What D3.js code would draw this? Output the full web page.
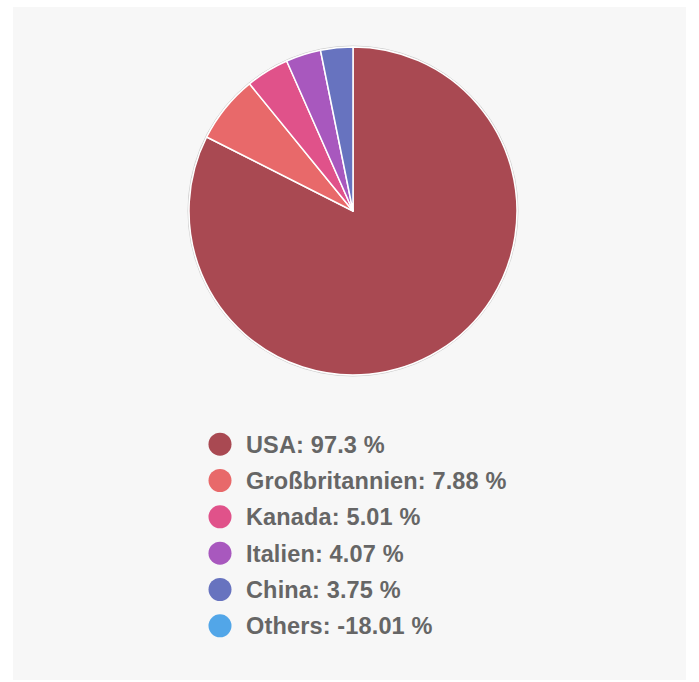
<!DOCTYPE html>
<html>
<head>
<meta charset="utf-8">
<script src="https://cdn.jsdelivr.net/npm/d3@7"></script>
<style>
  body { margin: 0; background: #fff; }
  .chart { font-family: "Liberation Sans", Arial, sans-serif; }
</style>
</head>
<body>
<div class="chart"></div>
<script>
// data
var countries = ["USA", "Großbritannien", "Kanada", "Italien", "China", "Others"];
var shares = [97.3, 7.88, 5.01, 4.07, 3.75, -18.01];
var colors = ["#a94952", "#e8696a", "#e0528a", "#a858be", "#6773bf", "#52a6e8"];

var W = 699, H = 682;
var cx = 353, cy = 211, r = 164;

var data = countries.map(function(c, i) { return {name: c, value: shares[i], color: colors[i]} });

var svg = d3.select('.chart').append('svg')
  .attr('width', W)
  .attr('height', H);

// panel background
svg.append('rect')
  .attr('x', 13).attr('y', 7)
  .attr('width', 673).attr('height', 673)
  .attr('fill', '#f7f7f7');

var pie = d3.pie()
  .sort(null)
  .value(function(d) { return Math.max(0, d.value) });

var arc = d3.arc().innerRadius(0).outerRadius(r);

var g = svg.append('g')
  .attr('transform', 'translate(' + cx + ',' + cy + ')');

// thin grey outer ring
g.append('circle')
  .attr('r', r + 1)
  .attr('fill', 'none')
  .attr('stroke', '#d0d0d0')
  .attr('stroke-width', 1);

g.selectAll('path')
  .data(pie(data).filter(function(d) { return d.endAngle > d.startAngle }))
  .enter().append('path')
  .attr('d', arc)
  .attr('fill', function(d) { return d.data.color })
  .attr('stroke', '#fff')
  .attr('stroke-width', 1.5)
  .attr('stroke-linejoin', 'round');

// legend
var y = d3.scaleBand()
  .domain(countries)
  .range([426, 644]);

var leg = svg.selectAll('.leg')
  .data(data)
  .enter().append('g')
  .attr('class', 'leg')
  .attr('transform', function(d) { return 'translate(0,' + (y(d.name) + y.bandwidth() / 2) + ')' });

leg.append('circle')
  .attr('cx', 220)
  .attr('r', 11.5)
  .attr('fill', function(d) { return d.color });

leg.append('text')
  .attr('x', 246)
  .attr('dy', '0.36em')
  .attr('font-size', 23.5)
  .attr('font-weight', 'bold')
  .attr('letter-spacing', 0.15)
  .attr('fill', '#666')
  .text(function(d) { return d.name + ': ' + d.value + ' %' });
</script>
</body>
</html>
